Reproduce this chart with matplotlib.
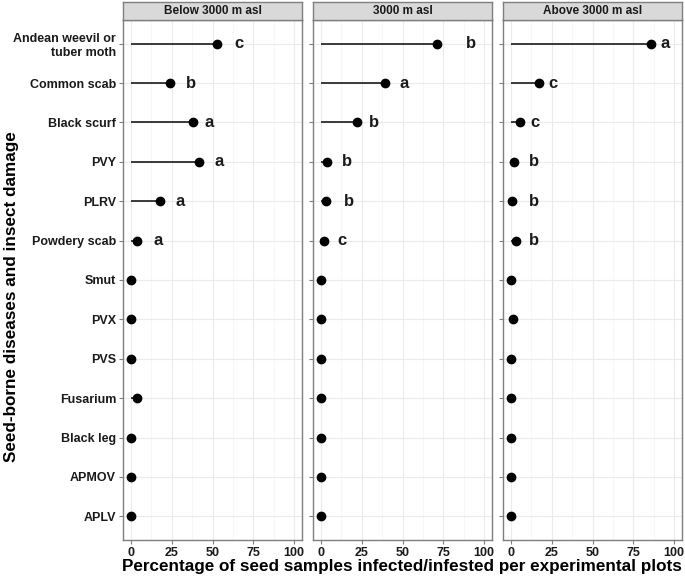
import matplotlib
matplotlib.use("Agg")
import matplotlib.pyplot as plt
from matplotlib.ticker import MultipleLocator

plt.rcParams['font.family'] = ['Liberation Sans', 'DejaVu Sans']

categories = ["Andean weevil or\ntuber moth", "Common scab", "Black scurf", "PVY", "PLRV",
              "Powdery scab", "Smut", "PVX", "PVS", "Fusarium", "Black leg", "APMOV", "APLV"]

panels = ["Below 3000 m asl", "3000 m asl", "Above 3000 m asl"]

below_vals = [53, 24, 38, 42, 17.5, 3.5, 0, 0, 0, 3.5, 0, 0, 0]
mid_vals = [71, 39, 22, 3.7, 3, 1.5, 0, 0, 0, 0, 0, 0, 0]
above_vals = [86, 17, 5.7, 2, 0.4, 2.8, 0, 1, 0, 0, 0, 0, 0]

below_letters = ["c", "b", "a", "a", "a", "a"]
mid_letters = ["b", "a", "b", "b", "b", "c"]
above_letters = ["a", "c", "c", "b", "b", "b"]

below_label_x = [66, 37, 48, 54, 30, 16.5]
mid_label_x = [92, 51.3, 32.3, 16.2, 17, 12.9]
above_label_x = [94.5, 26, 14.7, 13.9, 14, 14]

all_vals = [below_vals, mid_vals, above_vals]
all_letters = [below_letters, mid_letters, above_letters]
all_label_x = [below_label_x, mid_label_x, above_label_x]

W, H = 685, 579
fig = plt.figure(figsize=(W / 100, H / 100), dpi=100)

panel_lefts = [123, 313, 503]
panel_w = 179
panel_top = 20
panel_bot = 540
strip_top = 2

n = len(categories)
ypos = list(range(n))

for i, (title, vals, letters, lx) in enumerate(zip(panels, all_vals, all_letters, all_label_x)):
    left = panel_lefts[i]
    ax = fig.add_axes([left / W, 1 - panel_bot / H, panel_w / W, (panel_bot - panel_top) / H])
    ax.set_xlim(-5, 105)
    ax.set_ylim(n - 1 + 0.6, -0.6)
    ax.xaxis.set_major_locator(MultipleLocator(25))
    ax.xaxis.set_minor_locator(MultipleLocator(12.5))
    ax.grid(True, which='major', color='#EBEBEB', linewidth=0.8)
    ax.grid(True, which='minor', axis='x', color='#F4F4F4', linewidth=0.5)
    ax.set_axisbelow(True)
    ax.hlines(ypos, 0, vals, color='#1a1a1a', linewidth=1.2, zorder=2)
    ax.plot(vals, ypos, 'o', color='black', markersize=6, zorder=3)
    for j, (letter, x) in enumerate(zip(letters, lx)):
        ax.text(x, ypos[j], letter, fontsize=12, fontweight='bold', ha='center', va='center',
                color='#1a1a1a')
    for s in ax.spines.values():
        s.set_color('#7F7F7F')
        s.set_linewidth(1.0)
    ax.set_yticks(ypos)
    if i == 0:
        ax.set_yticklabels(categories, fontsize=9, fontweight='bold', color='#1a1a1a')
    else:
        ax.set_yticklabels([])
        ax.tick_params(axis='y', length=0)
    ax.set_xticks([0, 25, 50, 75, 100])
    ax.set_xticklabels(["0", "25", "50", "75", "100"], fontsize=9, fontweight='bold', color='#1a1a1a')
    ax.tick_params(axis='both', which='major', color='#7F7F7F', length=3, width=0.8, pad=2)
    ax.tick_params(axis='x', which='minor', length=0)

    sax = fig.add_axes([left / W, 1 - panel_top / H, panel_w / W, (panel_top - strip_top) / H])
    sax.set_facecolor('#D9D9D9')
    sax.set_xticks([])
    sax.set_yticks([])
    for s in sax.spines.values():
        s.set_color('#7F7F7F')
        s.set_linewidth(1.0)
    sax.text(0.5, 0.5, title, transform=sax.transAxes, ha='center', va='center',
             fontsize=8.5, fontweight='bold', color='#1a1a1a')

fig.text(402 / W, 1 - 567 / H,
         "Percentage of seed samples infected/infested per experimental plots",
         ha='center', va='center', fontsize=12.3, fontweight='bold')
fig.text(12 / W, 1 - 297 / H, "Seed-borne diseases and insect damage",
         ha='center', va='center', rotation=90, fontsize=12.3, fontweight='bold')

fig.savefig("out.png", dpi=100)
